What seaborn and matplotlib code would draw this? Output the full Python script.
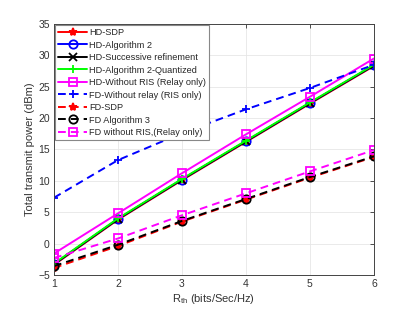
import numpy as np
import pandas as pd
import matplotlib
matplotlib.use("Agg")
import matplotlib.pyplot as plt
import seaborn as sns

# data
r_th = [1, 2, 3, 4, 5, 6]
hd_sdp = [-3.4, 3.8, 10.1, 16.2, 22.3, 28.3]
hd_alg2 = [-3.3, 3.9, 10.2, 16.3, 22.4, 28.4]
hd_succ = [-3.3, 3.9, 10.2, 16.3, 22.4, 28.4]
hd_quant = [-3.2, 4.0, 10.3, 16.4, 22.5, 28.5]
hd_no_ris = [-1.6, 4.8, 11.2, 17.4, 23.4, 29.5]
fd_no_relay = [7.3, 13.3, 17.6, 21.4, 24.8, 28.5]
fd_sdp = [-3.9, -0.4, 3.5, 7.0, 10.5, 13.8]
fd_alg3 = [-3.6, -0.2, 3.6, 7.1, 10.6, 13.9]
fd_no_ris = [-2.3, 0.8, 4.5, 8.0, 11.5, 14.9]

series = [
    ("HD-SDP", hd_sdp, "#ff0000", "*", "-", True),
    ("HD-Algorithm 2", hd_alg2, "#0000ff", "o", "-", False),
    ("HD-Successive refinement", hd_succ, "#000000", "x", "-", True),
    ("HD-Algorithm 2-Quantized", hd_quant, "#00ff00", "+", "-", True),
    ("HD-Without RIS (Relay only)", hd_no_ris, "#ff00ff", "s", "-", False),
    ("FD-Without relay (RIS only)", fd_no_relay, "#0000ff", "+", "--", True),
    ("FD-SDP", fd_sdp, "#ff0000", "*", "--", True),
    ("FD Algorithm 3", fd_alg3, "#000000", "o", "--", False),
    ("FD without RIS,(Relay only)", fd_no_ris, "#ff00ff", "s", "--", False),
]

sns.set_theme(style="whitegrid")
plt.rcParams["font.family"] = ["Liberation Sans", "DejaVu Sans"]
plt.rcParams["mathtext.fontset"] = "custom"
plt.rcParams["mathtext.rm"] = "Liberation Sans"
plt.rcParams["mathtext.it"] = "Liberation Sans"

fig = plt.figure(figsize=(4.15, 3.12), dpi=100)
ax = fig.add_axes([0.130, 0.119, 0.771, 0.804])

for label, vals, col, mk, ls, filled in series:
    df = pd.DataFrame({"R": r_th, "P": vals})
    line_kw = dict(dashes=(4, 2.6)) if ls == "--" else dict(linestyle="-")
    sns.lineplot(data=df, x="R", y="P", ax=ax, color=col,
                 marker=mk, markersize=6, linewidth=1.4, label=label,
                 markerfacecolor=col if filled else "none",
                 markeredgecolor=col, markeredgewidth=1.3, **line_kw)

ax.set_xlim(1, 6)
ax.set_ylim(-5, 35)
ax.set_xticks(r_th)
ax.set_yticks(np.arange(-5, 36, 5))
ax.set_xlabel("R$_{\\mathrm{th}}$ (bits/Sec/Hz)", fontsize=8, color="#333333", labelpad=2)
ax.set_ylabel("Total transmit power (dBm)", fontsize=8, color="#333333", labelpad=2)
ax.tick_params(axis="both", labelsize=7.5, colors="#333333", direction="in",
               length=3, width=0.6, top=True, right=True, pad=3)
ax.grid(True, color="#e6e6e6", linewidth=0.6)
for s in ax.spines.values():
    s.set_edgecolor("#444444")
    s.set_linewidth(0.7)
ax.set_facecolor("white")

leg = ax.legend(loc="upper left", fontsize=6.6, frameon=True, fancybox=False,
                handlelength=3.2, handletextpad=0.2, labelspacing=0.38,
                borderpad=0.3, borderaxespad=0.15, framealpha=1)
leg.get_frame().set_edgecolor("#888888")
leg.get_frame().set_linewidth(0.8)

fig.savefig("out.png", dpi=100)
